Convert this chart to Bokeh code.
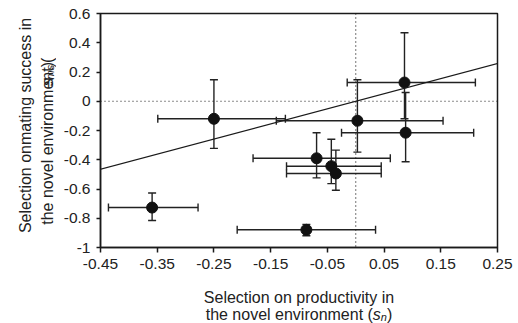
import math
from bokeh.plotting import figure
from bokeh.layouts import row, column
from bokeh.models import (ColumnDataSource, Whisker, TeeHead, Span, Slope, Label,
                          FixedTicker, Range1d)
from bokeh.embed import file_html
from bokeh.resources import INLINE

# ---- data ----
sel_productivity = [-0.25, 0.086, 0.088, 0.003, -0.069, -0.043, -0.035, -0.359, -0.087]
sel_mating = [-0.12, 0.128, -0.215, -0.133, -0.39, -0.444, -0.494, -0.727, -0.879]
prod_lower = [-0.349, -0.015, -0.025, -0.14, -0.181, -0.122, -0.122, -0.436, -0.209]
prod_upper = [-0.124, 0.211, 0.208, 0.154, 0.061, 0.045, 0.045, -0.278, 0.035]
mating_lower = [-0.322, -0.12, -0.414, -0.348, -0.524, -0.563, -0.609, -0.815, -0.92]
mating_upper = [0.147, 0.468, 0.06, 0.147, -0.215, -0.26, -0.334, -0.627, -0.842]

fit_slope = 1.033
fit_intercept = 0.0

x_ticks = [-0.45, -0.35, -0.25, -0.15, -0.05, 0.05, 0.15, 0.25]
x_tick_labels = ["-0.45", "-0.35", "-0.25", "-0.15", "-0.05", "0.05", "0.15", "0.25"]
y_ticks = [0.6, 0.4, 0.2, 0.0, -0.2, -0.4, -0.6, -0.8, -1.0]
y_tick_labels = ["0.6", "0.4", "0.2", "0", "-0.2", "-0.4", "-0.6", "-0.8", "-1"]

x_label_1 = "Selection on productivity in"
x_label_2 = "the novel environment ("
x_label_sym = "s"
x_label_sub = "n"
y_label_1 = "Selection onmating success in"
y_label_2 = "the novel environment ("
y_label_sym = "s"
y_label_sub = "ms"
close_paren = ")"

W, H = 518, 323
LEFT_W = 56            # width of the y-title strip
MAIN_H = 282           # height of the plot row
BOTTOM_H = H - MAIN_H  # height of the x-title strip
BL, BR, BT, BB = 44, 21, 13, 35
FONT = "Liberation Sans"
INK = "#1a1a1a"
TXT = "#222222"

p = figure(width=W - LEFT_W, height=MAIN_H, output_backend="svg", toolbar_location=None,
           x_range=Range1d(-0.45, 0.25), y_range=Range1d(-1.0, 0.6),
           min_border_left=BL, min_border_right=BR, min_border_top=BT, min_border_bottom=BB)
p.grid.visible = False
p.outline_line_color = INK
p.outline_line_width = 1.5
p.background_fill_color = "white"
p.border_fill_color = "white"

for ax, ticks, labels in ((p.xaxis[0], x_ticks, x_tick_labels), (p.yaxis[0], y_ticks, y_tick_labels)):
    ax.ticker = FixedTicker(ticks=ticks)
    ax.major_label_overrides = {t: l for t, l in zip(ticks, labels)}
    ax.minor_tick_line_color = None
    ax.major_tick_in = 0
    ax.axis_line_color = INK
    ax.axis_line_width = 1.5
    ax.major_tick_line_color = INK
    ax.major_tick_line_width = 1.5
    ax.major_label_text_font = FONT
    ax.major_label_text_font_size = "15.5px"
    ax.major_label_text_color = TXT
p.xaxis.major_tick_out = 5
p.xaxis.major_label_standoff = 6
p.yaxis.major_tick_out = 4
p.yaxis.major_label_standoff = 6

# reference lines
p.add_layout(Span(location=0, dimension="width", line_color=INK, line_width=1.2, line_dash="1 3"))
p.add_layout(Span(location=0, dimension="height", line_color=INK, line_width=1.2, line_dash="1 3"))

# regression line
p.add_layout(Slope(gradient=fit_slope, y_intercept=fit_intercept, line_color=INK, line_width=1.3))

src = ColumnDataSource(dict(x=sel_productivity, y=sel_mating,
                            xlo=prod_lower, xhi=prod_upper,
                            ylo=mating_lower, yhi=mating_upper))

def tee():
    return TeeHead(size=8, line_color=TXT, line_width=1.4)

p.add_layout(Whisker(source=src, base="y", lower="xlo", upper="xhi", dimension="width",
                     line_color=TXT, line_width=1.4, lower_head=tee(), upper_head=tee()))
p.add_layout(Whisker(source=src, base="x", lower="ylo", upper="yhi", dimension="height",
                     line_color=TXT, line_width=1.4, lower_head=tee(), upper_head=tee()))

p.scatter("x", "y", source=src, size=11, fill_color="#111111", line_color="#111111")

# ---- title strips (pixel-unit figures) ----
def strip(w, h):
    f = figure(width=w, height=h, output_backend="svg", toolbar_location=None,
               x_range=Range1d(0, w), y_range=Range1d(0, h),
               x_axis_type=None, y_axis_type=None, min_border=0)
    f.min_border_left = f.min_border_right = f.min_border_top = f.min_border_bottom = 0
    f.grid.visible = False
    f.outline_line_color = None
    f.background_fill_color = "white"
    f.border_fill_color = "white"
    return f

ARIAL = {' ': 278, '(': 333, ')': 333, 'a': 556, 'b': 556, 'c': 500, 'd': 556, 'e': 556,
         'g': 556, 'h': 556, 'i': 222, 'l': 222, 'm': 833, 'n': 556, 'o': 556, 'p': 556,
         'r': 333, 's': 500, 't': 278, 'u': 556, 'v': 500, 'y': 500, 'S': 667}

def tw(s, size):
    return sum(ARIAL.get(c, 556) for c in s) / 1000.0 * size

FS = 16
SUB = 11
ROT_SHIFT = 27  # observed upward offset of rotated left-aligned labels

def lab(f, x, y, text, size=FS, italic=False, angle=0.0, align="left"):
    f.add_layout(Label(x=x, y=y, text=text, angle=angle, text_align=align,
                       text_baseline="alphabetic", text_font=FONT,
                       text_font_size=f"{size}px",
                       text_font_style="italic" if italic else "normal",
                       text_color=TXT))

# x title strip: page y offset MAIN_H; strip y measured from its bottom (page y = H - y)
xf = strip(W, BOTTOM_H)
frame_cx = LEFT_W + BL + (W - LEFT_W - BL - BR) / 2.0
lab(xf, frame_cx, H - 297, x_label_1, align="center")
parts = [(x_label_2, FS, False, 0), (x_label_sym, FS, True, 0),
         (x_label_sub, SUB, True, -3), (close_paren, FS, False, 0)]
total = sum(tw(t, s) for t, s, _, _ in parts)
cx = frame_cx - total / 2.0
for t, s, it, dy in parts:
    lab(xf, cx, H - 313.5 + dy, t, size=s, italic=it)
    cx += tw(t, s)

# y title strip (rotated text reading upwards)
yf = strip(LEFT_W, MAIN_H)
frame_cy = MAIN_H - (BT + (MAIN_H - BT - BB) / 2.0)
lab(yf, 25, frame_cy - tw(y_label_1, FS) / 2.0 - ROT_SHIFT, y_label_1, angle=math.pi / 2)
parts = [(y_label_2, FS, False, 0), (y_label_sym, FS, True, 0),
         (y_label_sub, SUB, True, 3), (close_paren, FS, False, 0)]
total = sum(tw(t, s) for t, s, _, _ in parts)
cy = frame_cy - total / 2.0 - ROT_SHIFT
for t, s, it, dx in parts:
    lab(yf, 46.5 + dx, cy, t, size=s, italic=it, angle=math.pi / 2)
    cy += tw(t, s)

layout = column(row(yf, p, spacing=0), xf, spacing=0)
open("out.html", "w").write(file_html(layout, INLINE))
